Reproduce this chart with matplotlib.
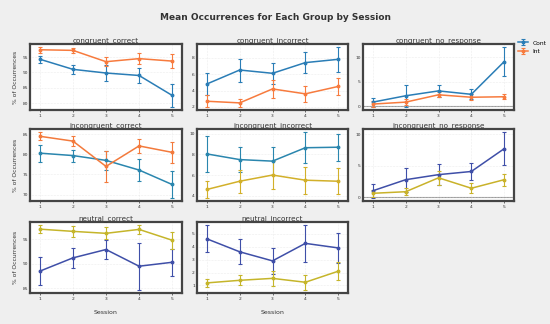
import matplotlib
matplotlib.use("Agg")
import matplotlib.pyplot as plt
import numpy as np

sessions = [1, 2, 3, 4, 5]

# mean values and error half-widths
cont_mean = {
    "congruent_correct": [94.3, 91.0, 89.8, 89.0, 82.5],
    "congruent_incorrect": [4.8, 6.5, 6.1, 7.4, 7.8],
    "congruent_no_response": [0.8, 2.1, 3.1, 2.4, 9.1],
    "incongruent_correct": [80.3, 79.7, 78.5, 76.1, 72.5],
    "incongruent_incorrect": [8.05, 7.5, 7.35, 8.65, 8.7],
    "incongruent_no_response": [1.05, 2.8, 3.6, 4.1, 7.7],
    "neutral_correct": [88.5, 91.2, 92.9, 89.5, 90.3],
    "neutral_incorrect": [4.6, 3.6, 2.9, 4.25, 3.9],
}
cont_err = {
    "congruent_correct": [1.2, 1.5, 2.5, 2.3, 3.8],
    "congruent_incorrect": [1.35, 1.4, 1.25, 1.3, 1.5],
    "congruent_no_response": [0.9, 2.2, 1.3, 1.05, 3.0],
    "incongruent_correct": [2.1, 1.5, 2.4, 2.7, 3.3],
    "incongruent_incorrect": [1.75, 1.2, 1.35, 1.5, 1.3],
    "incongruent_no_response": [1.1, 1.9, 1.7, 1.4, 2.6],
    "neutral_correct": [2.9, 2.05, 2.0, 4.8, 2.75],
    "neutral_incorrect": [1.05, 0.95, 0.98, 1.4, 1.18],
}
int_mean = {
    "congruent_correct": [97.4, 97.2, 93.5, 94.5, 93.7],
    "congruent_incorrect": [2.7, 2.5, 4.2, 3.6, 4.5],
    "congruent_no_response": [0.4, 0.8, 2.3, 1.8, 1.9],
    "incongruent_correct": [84.5, 83.3, 77.0, 82.1, 80.5],
    "incongruent_incorrect": [4.6, 5.4, 6.0, 5.5, 5.4],
    "incongruent_no_response": [0.65, 0.9, 3.1, 1.45, 2.8],
    "neutral_correct": [97.05, 96.6, 96.2, 97.0, 94.8],
    "neutral_incorrect": [1.2, 1.4, 1.55, 1.25, 2.1],
}
int_err = {
    "congruent_correct": [0.9, 0.7, 1.5, 1.9, 2.2],
    "congruent_incorrect": [0.7, 0.5, 1.1, 0.95, 1.05],
    "congruent_no_response": [0.6, 0.65, 0.55, 0.6, 0.5],
    "incongruent_correct": [1.0, 1.25, 3.85, 1.75, 2.6],
    "incongruent_incorrect": [0.8, 1.1, 1.35, 1.3, 1.25],
    "incongruent_no_response": [0.6, 0.55, 1.15, 0.8, 0.95],
    "neutral_correct": [0.75, 1.05, 1.25, 0.85, 1.75],
    "neutral_incorrect": [0.3, 0.38, 0.58, 0.58, 0.7],
}
yticks = {
    "congruent_correct": [80, 85, 90, 95],
    "congruent_incorrect": [2, 4, 6, 8],
    "congruent_no_response": [0, 5, 10],
    "incongruent_correct": [70, 75, 80, 85],
    "incongruent_incorrect": [4, 6, 8, 10],
    "incongruent_no_response": [0, 5, 10],
    "neutral_correct": [85, 90, 95],
    "neutral_incorrect": [1, 2, 3, 4, 5],
}
panels = list(cont_mean.keys())

# colours drift a bit from panel to panel in the original
colors = {
    "congruent_correct": ("#2a7db6", "#f77b3e"),
    "congruent_incorrect": ("#2a7db6", "#f77b3e"),
    "congruent_no_response": ("#2a7db6", "#f77b3e"),
    "incongruent_correct": ("#2a86ae", "#f37a3c"),
    "incongruent_incorrect": ("#2a86ae", "#d2b02a"),
    "incongruent_no_response": ("#3f4fa8", "#c9b22a"),
    "neutral_correct": ("#3f4fa8", "#c5b52a"),
    "neutral_incorrect": ("#3f4fa8", "#c5b52a"),
}

W, H = 550, 324
fig = plt.figure(figsize=(W / 100, H / 100), dpi=100, facecolor="#efefef")

col_x = [(30, 182), (197, 348), (363, 514)]
row_y = [(44, 110), (129, 201), (222, 293)]

handles = None
for i, name in enumerate(panels):
    r, c = divmod(i, 3)
    x0, x1 = col_x[c]
    y0, y1 = row_y[r]
    ax = fig.add_axes([x0 / W, 1 - y1 / H, (x1 - x0) / W, (y1 - y0) / H])
    ax.set_facecolor("white")
    cc, ic = colors[name]
    if "no_response" in name:
        ax.axhline(0, color="#999999", lw=0.8, zorder=1)
    h1 = ax.errorbar(sessions, cont_mean[name], yerr=cont_err[name], color=cc,
                     marker="o", ms=1.8, lw=1.1, elinewidth=0.8, capsize=1.5,
                     capthick=0.8, label="Cont", zorder=3)
    h2 = ax.errorbar(sessions, int_mean[name], yerr=int_err[name], color=ic,
                     marker="o", ms=1.8, lw=1.1, elinewidth=0.8, capsize=1.5,
                     capthick=0.8, label="Int", zorder=3)
    if handles is None:
        handles = [h1, h2]
    ax.set_xlim(0.7, 5.3)
    ax.set_xticks(sessions)
    ax.set_yticks(yticks[name])
    ax.tick_params(labelsize=3.2, length=1.5, width=0.5, pad=1.5, colors="#333333")
    ax.tick_params(axis="y", length=0)
    ax.grid(True, color="#dddddd", lw=0.4, ls=":")
    for s in ax.spines.values():
        s.set_color("#444444")
        s.set_linewidth(1.6)
    ax.set_title(name, fontsize=5.2, pad=1.5, color="#333333")
    if c == 0:
        ax.set_ylabel("% of Occurrences", fontsize=4.3, labelpad=3, color="#333333")
    if r == 2:
        ax.set_xlabel("Session", fontsize=4.5, labelpad=6, color="#333333")

fig.text(0.5, 1 - 18 / H, "Mean Occurrences for Each Group by Session",
         ha="center", va="center", fontsize=6.5, fontweight="bold", color="#333333")

fig.legend(handles=handles, labels=["Cont", "Int"], loc="upper left",
           bbox_to_anchor=(516 / W, 1 - 38 / H), frameon=False, fontsize=4.3,
           handlelength=1.6, borderaxespad=0)

fig.savefig("out.png", dpi=100, facecolor=fig.get_facecolor())
